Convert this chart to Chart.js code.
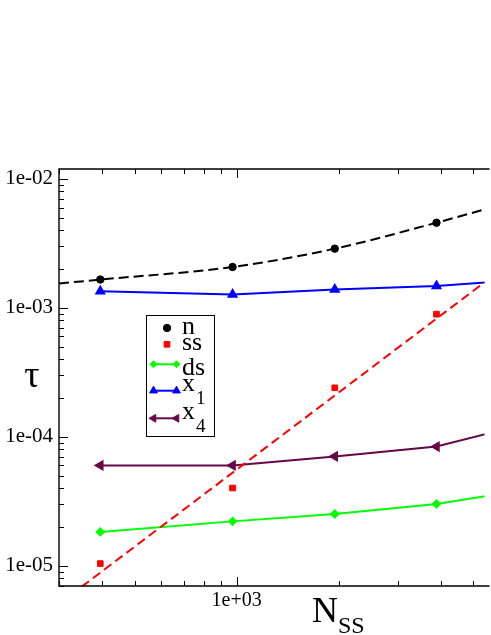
<!DOCTYPE html>
<html>
<head>
<meta charset="utf-8">
<script src="https://cdn.jsdelivr.net/npm/chart.js@4.4.0/dist/chart.umd.min.js"></script>
<style>
  html, body { margin: 0; padding: 0; background: #fff; overflow: hidden; }
</style>
</head>
<body>
<canvas id="myChart" width="491" height="635"></canvas>
<script>
// system sizes (x) and relaxation times (y)
const sizes = [396, 973, 1949, 3891]
const sizesWide = [396, 973, 1949, 3891, 7800]
const tauN = [1.66e-3, 2.075e-3, 2.88e-3, 4.575e-3]
const tauSS = [1.04e-5, 4.01e-5, 2.40e-4, 8.94e-4]
const tauDS = [1.83e-5, 2.21e-5, 2.52e-5, 3.02e-5, 4.02e-5]
const tauX1 = [1.345e-3, 1.27e-3, 1.387e-3, 1.48e-3, 1.69e-3]
const tauX4 = [6.0e-5, 6.0e-5, 7.05e-5, 8.41e-5, 1.34e-4]

// dashed fit curves
const fitNSizes = [299, 396, 973, 1949, 3891, 5392]
const fitN = [1.544e-3, 1.658e-3, 2.075e-3, 2.88e-3, 4.575e-3, 5.80e-3]
const fitSSSizes = [300, 6000]
const fitSS = [5.1e-6, 1.95e-3]

const xTickValues = [1000]
const xTickLabels = ['1e+03']
const yTickValues = [1e-5, 1e-4, 1e-3, 1e-2]
const yTickLabels = ['1e-05', '1e-04', '1e-03', '1e-02']
const minorSteps = [2, 3, 4, 5, 6, 7, 8, 9]

const legendNames = ['n', 'ss', 'ds', 'x', 'x']
const legendSubs = ['', '', '', '1', '4']

const maroon = 'rgb(103,7,72)'
const serif = '"Liberation Serif", "Times New Roman", serif'

const pts = (xs, ys) => ys.map((y, i) => ({ x: xs[i], y: y }))

const fitN_ds = {
  label: 'n fit', data: pts(fitNSizes, fitN), borderColor: '#000', borderWidth: 2,
  borderDash: [10, 5], pointRadius: 0, showLine: true, cubicInterpolationMode: 'monotone'
}
const fitSS_ds = {
  label: 'ss fit', data: pts(fitSSSizes, fitSS), borderColor: '#ff0000', borderWidth: 2,
  borderDash: [9, 5], pointRadius: 0, showLine: true
}
const ds_ds = {
  label: 'ds', data: pts(sizesWide, tauDS), borderColor: '#00ff00', backgroundColor: '#00ff00',
  borderWidth: 2, pointStyle: 'rectRot', pointRadius: 3.5, showLine: true
}
const x1_ds = {
  label: 'x1', data: pts(sizesWide, tauX1), borderColor: '#0000ff', backgroundColor: '#0000ff',
  borderWidth: 2, pointStyle: 'triangle', pointRadius: 4.5, showLine: true
}
const x4_ds = {
  label: 'x4', data: pts(sizesWide, tauX4), borderColor: maroon, backgroundColor: maroon,
  borderWidth: 2, pointStyle: 'triangle', pointRotation: -90, pointRadius: 4.5, showLine: true
}
const n_ds = {
  label: 'n', data: pts(sizes, tauN), borderColor: '#000', backgroundColor: '#000',
  pointStyle: 'circle', pointRadius: 3.7, pointBorderWidth: 1, showLine: false
}
const ss_ds = {
  label: 'ss', data: pts(sizes, tauSS), borderColor: '#ff0000', backgroundColor: '#ff0000',
  pointStyle: 'rect', pointRadius: 4, pointBorderWidth: 1, showLine: false
}

const legendSets = [n_ds, ss_ds, ds_ds, x1_ds, x4_ds]

const drawText = (ctx, text, x, y, size, align) => {
  ctx.font = size + 'px ' + serif
  ctx.textAlign = align || 'left'
  ctx.textBaseline = 'alphabetic'
  ctx.fillText(text, x, y)
  return ctx.measureText(text).width
}

const frameAndLegend = {
  id: 'frameAndLegend',
  afterDraw(chart) {
    const { ctx, chartArea: a } = chart
    const xs = chart.scales.x
    const ys = chart.scales.y
    ctx.save()
    ctx.strokeStyle = '#000'
    ctx.fillStyle = '#000'
    ctx.lineWidth = 1.4
    ctx.beginPath()
    ctx.moveTo(a.right + 5, a.top)
    ctx.lineTo(a.left, a.top)
    ctx.lineTo(a.left, a.bottom)
    ctx.lineTo(a.right + 5, a.bottom)
    ctx.stroke()

    // inward ticks
    ctx.lineWidth = 1
    ctx.beginPath()
    for (let dec of [100, 1000, 10000]) {
      for (let m of [1].concat(minorSteps)) {
        let v = m * dec
        if (v < xs.min || v > xs.max) continue
        let px = Math.round(xs.getPixelForValue(v)) + 0.5
        let len = m === 1 ? 9 : 5
        ctx.moveTo(px, a.top); ctx.lineTo(px, a.top + len)
        ctx.moveTo(px, a.bottom); ctx.lineTo(px, a.bottom - len)
      }
    }
    for (let dec of [1e-6, 1e-5, 1e-4, 1e-3, 1e-2]) {
      for (let m of [1].concat(minorSteps)) {
        let v = m * dec
        if (v < ys.min || v > ys.max) continue
        let py = Math.round(ys.getPixelForValue(v)) + 0.5
        let len = m === 1 ? 9 : 5
        ctx.moveTo(a.left, py); ctx.lineTo(a.left + len, py)
      }
    }
    ctx.stroke()

    // axis titles
    drawText(ctx, 'τ', 32, 387, 38, 'center')
    let w = drawText(ctx, 'N', 312, 622, 36)
    drawText(ctx, 'SS', 312 + w, 633, 24)

    // legend box
    ctx.lineWidth = 1
    ctx.strokeRect(146.5, 315.5, 68, 121)
    const rowY = [328, 344.3, 364.3, 390.7, 418.3]
    const textY = [333.5, 349.5, 374.5, 390.7, 418.7]
    const subY = [0, 0, 0, 403.5, 432]
    legendSets.forEach((d, i) => {
      const opts = {
        pointStyle: d.pointStyle, radius: d.pointRadius, rotation: d.pointRotation || 0, borderWidth: 1
      }
      ctx.strokeStyle = d.borderColor
      ctx.fillStyle = d.backgroundColor
      if (d.showLine) {
        ctx.lineWidth = 2
        ctx.beginPath()
        ctx.moveTo(153, rowY[i]); ctx.lineTo(177, rowY[i])
        ctx.stroke()
        ctx.lineWidth = 1
        Chart.helpers.drawPoint(ctx, opts, 153.5, rowY[i])
        Chart.helpers.drawPoint(ctx, opts, 176.5, rowY[i])
      } else {
        Chart.helpers.drawPoint(ctx, opts, 167, rowY[i])
      }
      ctx.fillStyle = '#000'
      let tw = drawText(ctx, legendNames[i], 182, textY[i], 26)
      if (legendSubs[i]) drawText(ctx, legendSubs[i], 182 + tw + 1, subY[i], 19)
    })
    ctx.restore()
  }
}

const ctx = document.getElementById('myChart').getContext('2d')
const chart = new Chart(ctx, {
  type: 'scatter',
  data: {
    datasets: [fitN_ds, fitSS_ds, ds_ds, x1_ds, x4_ds, n_ds, ss_ds]
  },
  options: {
    responsive: false,
    animation: false,
    layout: { padding: { top: 169, left: 0, right: 0, bottom: 0 } },
    plugins: {
      legend: { display: false },
      tooltip: { enabled: false }
    },
    scales: {
      x: {
        type: 'logarithmic',
        min: 299.1,
        max: 5392,
        grid: { display: false, drawTicks: false },
        border: { display: false },
        afterBuildTicks: s => { s.ticks = xTickValues.map(v => ({ value: v })) },
        afterFit: s => { s.height = 49 },
        ticks: {
          callback: v => xTickLabels[xTickValues.indexOf(v)],
          font: { family: serif, size: 20 },
          color: '#000',
          padding: 3,
          maxRotation: 0,
          autoSkip: false
        }
      },
      y: {
        type: 'logarithmic',
        min: 6.97e-6,
        max: 1.194e-2,
        grid: { display: false, drawTicks: false },
        border: { display: false },
        afterBuildTicks: s => { s.ticks = yTickValues.map(v => ({ value: v })) },
        afterFit: s => { s.width = 59 },
        ticks: {
          callback: v => yTickLabels[yTickValues.indexOf(v)],
          font: { family: serif, size: 21 },
          color: '#000',
          padding: 6,
          autoSkip: false
        }
      }
    }
  },
  plugins: [frameAndLegend]
})
</script>
</body>
</html>
